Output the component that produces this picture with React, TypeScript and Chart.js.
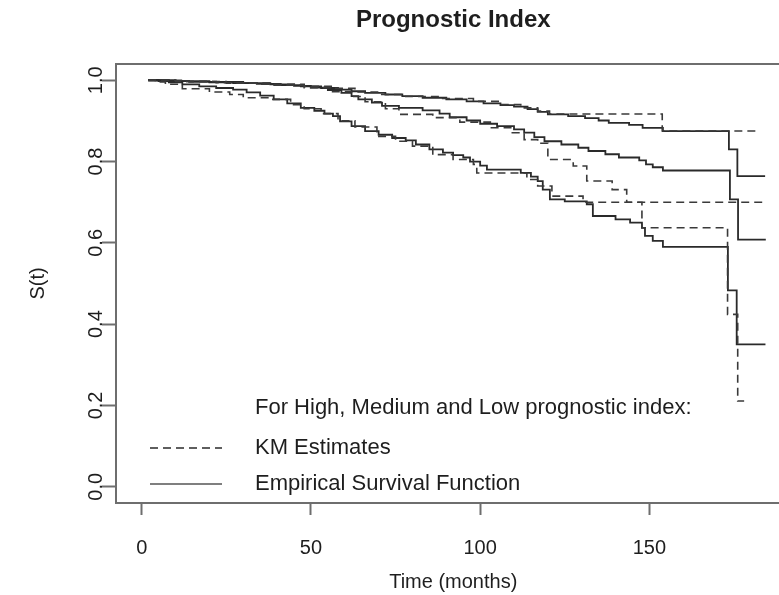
import React, { useEffect, useRef } from "react";
import { Chart, registerables } from "chart.js";

Chart.register(...registerables);

// ---- axis ticks ----
const X_TICKS = [0, 50, 100, 150];
const X_TICK_LABELS = ["0", "50", "100", "150"];
const Y_TICKS = [0, 0.2, 0.4, 0.6, 0.8, 1.0];
const Y_TICK_LABELS = ["0.0", "0.2", "0.4", "0.6", "0.8", "1.0"];

// ---- text ----
const TITLE = "Prognostic Index";
const X_TITLE = "Time (months)";
const Y_TITLE = "S(t)";
const LEGEND_HEADER = "For High, Medium and Low prognostic index:";
const LEGEND_LABELS = ["KM Estimates", "Empirical Survival Function"];

// ---- top group (best survival) ----
const topEmpTime = [1.9, 8, 14, 20, 27, 34, 41, 47, 53, 58, 62, 66, 72, 77, 83, 90, 96, 101, 106, 110, 114, 117, 120, 126, 131, 135, 138, 144, 148, 154, 173.5, 176, 184.2];
const topEmpSurv = [1.0, 0.998, 0.996, 0.995, 0.993, 0.991, 0.988, 0.985, 0.981, 0.977, 0.973, 0.969, 0.965, 0.961, 0.957, 0.953, 0.948, 0.943, 0.939, 0.935, 0.929, 0.922, 0.916, 0.912, 0.907, 0.901, 0.895, 0.89, 0.883, 0.875, 0.83, 0.764, 0.764];
const topKmTime = [1.9, 10, 22, 35, 48, 56, 63, 70, 78, 88, 98, 106, 112, 117, 120.5, 153.8, 182.7];
const topKmSurv = [1.0, 0.997, 0.994, 0.99, 0.985, 0.98, 0.971, 0.965, 0.96, 0.955, 0.948, 0.94, 0.932, 0.924, 0.917, 0.875, 0.875];

// ---- middle group ----
const midEmpTime = [1.9, 10, 20, 30, 38, 45, 50, 55, 59, 62, 64, 68, 71, 76, 83, 88, 91, 96, 100, 105, 110, 113, 116, 119, 124, 129, 132, 137, 141, 147, 149, 151, 154, 173.8, 176.2, 184.4];
const midEmpSurv = [1.0, 0.998, 0.996, 0.993, 0.99, 0.986, 0.982, 0.976, 0.969, 0.961, 0.953, 0.945, 0.937, 0.932, 0.926, 0.918, 0.909, 0.901, 0.893, 0.887, 0.879, 0.871, 0.86, 0.85, 0.842, 0.834, 0.826, 0.818, 0.81, 0.803, 0.793, 0.786, 0.778, 0.707, 0.608, 0.608];
const midKmTime = [1.9, 12, 25, 38, 48, 56, 62, 66, 72, 76, 86, 94, 103, 109.5, 113, 117, 120, 127.5, 131.5, 139, 143.3, 183.6];
const midKmSurv = [1.0, 0.997, 0.993, 0.988, 0.982, 0.972, 0.96, 0.947, 0.93, 0.916, 0.908, 0.897, 0.883, 0.871, 0.854, 0.845, 0.805, 0.789, 0.752, 0.731, 0.7, 0.7];

// ---- bottom group (worst survival) ----
const lowEmpTime = [1.9, 5, 8, 12, 17, 22, 27, 31, 35, 39, 43, 47, 51, 54, 56.5, 58.6, 62, 66, 70, 74, 78, 81, 85, 89, 92, 95, 97, 100, 102, 112, 115, 117, 118.5, 120.6, 125, 131.5, 133.3, 140, 144.3, 147.8, 148.7, 151, 154, 173.2, 175.8, 184.3];
const lowEmpSurv = [1.0, 0.998, 0.995, 0.99, 0.985, 0.981, 0.977, 0.97, 0.962, 0.953, 0.943, 0.932, 0.925, 0.918, 0.912, 0.899, 0.887, 0.875, 0.866, 0.858, 0.852, 0.842, 0.83, 0.822, 0.816, 0.81, 0.8, 0.79, 0.78, 0.772, 0.763, 0.752, 0.731, 0.707, 0.702, 0.695, 0.666, 0.658, 0.65, 0.637, 0.617, 0.605, 0.59, 0.483, 0.35, 0.35];
const lowKmTime = [1.9, 4, 7, 12, 20, 26, 30, 38, 44, 48, 53, 58, 63, 69.5, 75, 80, 86, 92, 98, 99, 113.8, 117, 121.2, 130.4, 147.8, 173.1, 176.1, 178];
const lowKmSurv = [1.0, 0.996, 0.99, 0.979, 0.971, 0.965, 0.957, 0.953, 0.94, 0.93, 0.918, 0.9, 0.885, 0.862, 0.85, 0.838, 0.817, 0.805, 0.793, 0.772, 0.756, 0.74, 0.715, 0.7, 0.637, 0.424, 0.211, 0.211];

const FONT = '"Liberation Sans", Arial, Helvetica, sans-serif';
const LINE_COLOR = "#2a2a2a";
const DASH = [8, 5];

const toPoints = (t: number[], s: number[]) => t.map((x, i) => ({ x, y: s[i] }));

const decorPlugin = {
  id: "decor",
  afterDraw(chart: any) {
    const { ctx, chartArea, scales } = chart;
    const xs = scales.x;
    const ys = scales.y;
    ctx.save();
    // box (plot region)
    ctx.strokeStyle = "#6e6e6e";
    ctx.lineWidth = 2;
    ctx.beginPath();
    ctx.moveTo(chartArea.right + 20, chartArea.top);
    ctx.lineTo(chartArea.left, chartArea.top);
    ctx.lineTo(chartArea.left, chartArea.bottom);
    ctx.lineTo(chartArea.right + 20, chartArea.bottom);
    ctx.stroke();

    ctx.fillStyle = "#1e1e1e";
    // title
    ctx.font = `bold 24px ${FONT}`;
    ctx.textAlign = "center";
    ctx.textBaseline = "middle";
    const plotCenterX = (xs.getPixelForValue(-7.6) + xs.getPixelForValue(191.7)) / 2;
    ctx.fillText(TITLE, plotCenterX, 20);

    // x tick labels
    ctx.font = `20px ${FONT}`;
    X_TICKS.forEach((v, i) => {
      ctx.fillText(X_TICK_LABELS[i], xs.getPixelForValue(v), 548);
    });
    // x title
    ctx.fillText(X_TITLE, plotCenterX, 582);

    // y tick labels rotated
    Y_TICKS.forEach((v, i) => {
      ctx.save();
      ctx.translate(96, ys.getPixelForValue(v));
      ctx.rotate(-Math.PI / 2);
      ctx.fillText(Y_TICK_LABELS[i], 0, 0);
      ctx.restore();
    });
    // y title
    ctx.save();
    ctx.translate(38, (chartArea.top + chartArea.bottom) / 2);
    ctx.rotate(-Math.PI / 2);
    ctx.fillText(Y_TITLE, 0, 0);
    ctx.restore();

    // legend
    ctx.font = `22px ${FONT}`;
    ctx.textAlign = "left";
    ctx.fillText(LEGEND_HEADER, 255, 408);
    ctx.fillText(LEGEND_LABELS[0], 255, 448);
    ctx.fillText(LEGEND_LABELS[1], 255, 484);
    ctx.strokeStyle = LINE_COLOR;
    ctx.lineWidth = 1.6;
    ctx.setLineDash(DASH);
    ctx.beginPath();
    ctx.moveTo(150, 448);
    ctx.lineTo(222, 448);
    ctx.stroke();
    ctx.setLineDash([]);
    ctx.strokeStyle = "#555";
    ctx.beginPath();
    ctx.moveTo(150, 484);
    ctx.lineTo(222, 484);
    ctx.stroke();
    ctx.restore();
  },
};

export default function App() {
  const ref = useRef<HTMLCanvasElement | null>(null);
  useEffect(() => {
    if (!ref.current) return;
    const solid = (t: number[], s: number[]) => ({
      data: toPoints(t, s),
      borderColor: LINE_COLOR,
      borderWidth: 1.8,
      pointRadius: 0,
      stepped: "before" as const,
      fill: false,
    });
    const dashed = (t: number[], s: number[]) => ({
      data: toPoints(t, s),
      borderColor: "#3a3a3a",
      borderWidth: 1.6,
      borderDash: DASH,
      pointRadius: 0,
      stepped: "before" as const,
      fill: false,
    });
    const chart = new Chart(ref.current, {
      type: "line",
      data: {
        datasets: [
          dashed(topKmTime, topKmSurv),
          dashed(midKmTime, midKmSurv),
          dashed(lowKmTime, lowKmSurv),
          solid(topEmpTime, topEmpSurv),
          solid(midEmpTime, midEmpSurv),
          solid(lowEmpTime, lowEmpSurv),
        ],
      },
      options: {
        animation: false,
        responsive: false,
        devicePixelRatio: 1,
        layout: { padding: { top: 64, left: 0, right: 0, bottom: 0 } },
        plugins: { legend: { display: false }, tooltip: { enabled: false }, title: { display: false } },
        scales: {
          x: {
            type: "linear",
            min: -7.6,
            max: 188.3,
            afterBuildTicks: (s: any) => {
              s.ticks = X_TICKS.map((v) => ({ value: v }));
            },
            afterFit: (s: any) => {
              s.height = 92;
            },
            ticks: { display: false },
            border: { display: false },
            grid: { drawOnChartArea: false, drawTicks: true, tickLength: 12, tickColor: "#6e6e6e", tickWidth: 2, color: "#6e6e6e" },
          },
          y: {
            type: "linear",
            min: -0.04,
            max: 1.04,
            afterBuildTicks: (s: any) => {
              s.ticks = Y_TICKS.map((v) => ({ value: v }));
            },
            afterFit: (s: any) => {
              s.width = 116;
            },
            ticks: { display: false },
            border: { display: false },
            grid: { drawOnChartArea: false, drawTicks: true, tickLength: 14, tickColor: "#6e6e6e", tickWidth: 2, color: "#6e6e6e" },
          },
        },
      },
      plugins: [decorPlugin],
    });
    return () => chart.destroy();
  }, []);
  return (
    <div style={{ position: "absolute", left: 0, top: 0, width: 779, height: 595, background: "#fff" }}>
      <canvas ref={ref} width={779} height={595} style={{ width: 779, height: 595, display: "block" }} />
    </div>
  );
}
